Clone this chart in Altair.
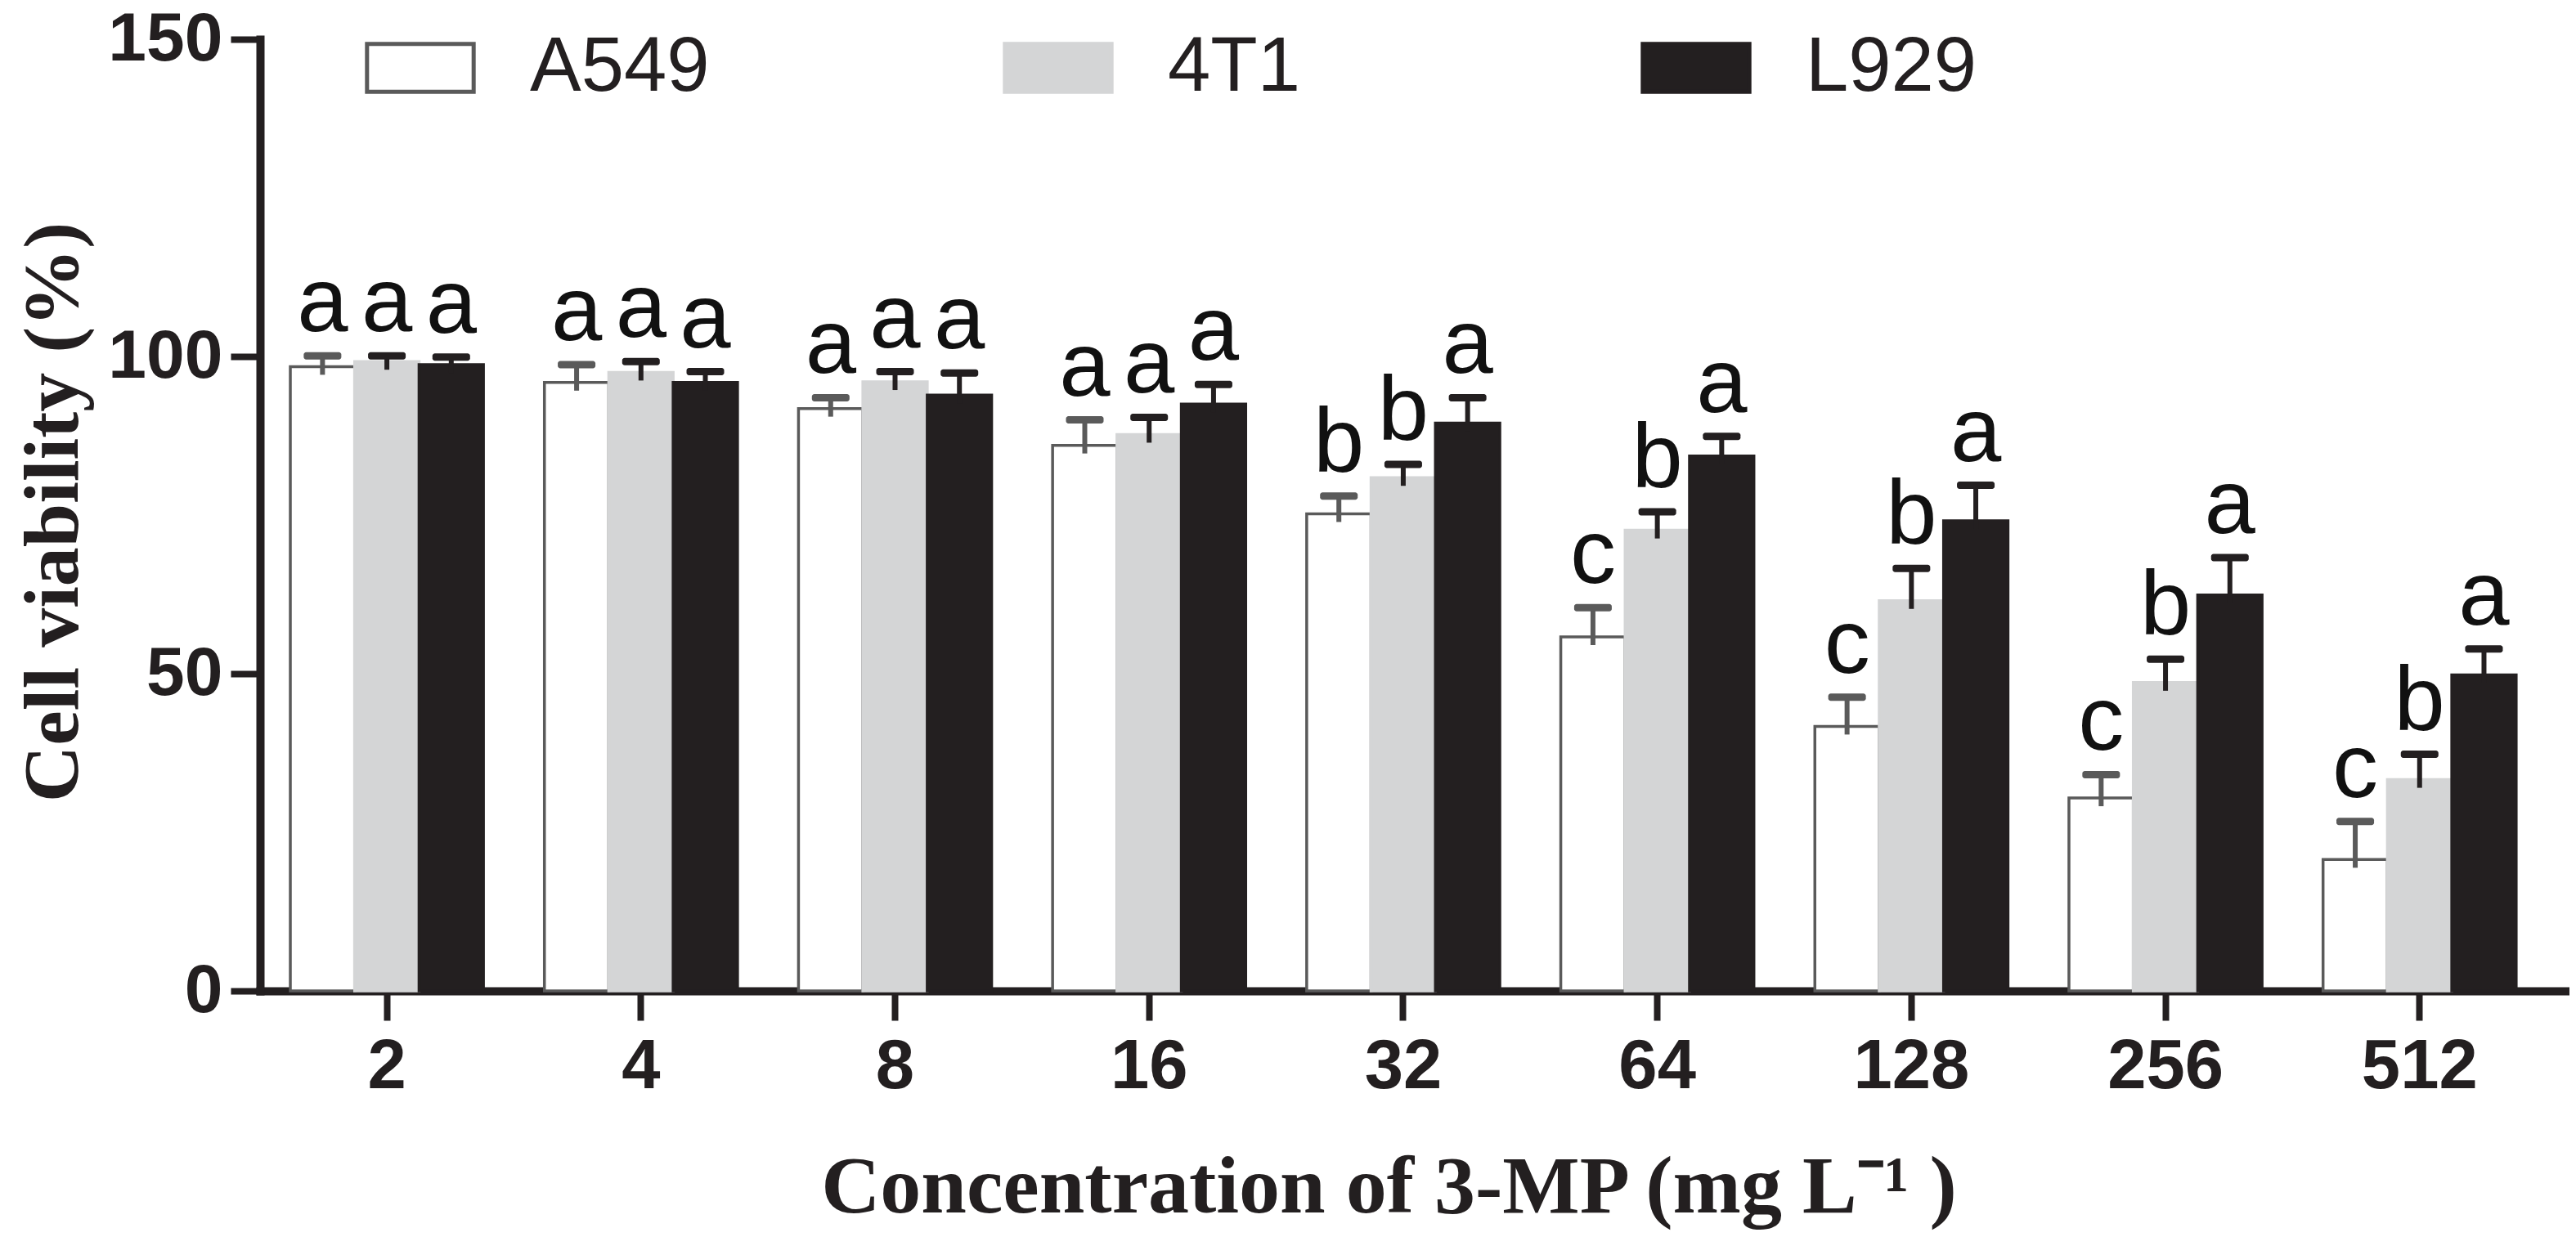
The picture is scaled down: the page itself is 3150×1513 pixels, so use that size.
import altair as alt
import pandas as pd

conc = ["2", "4", "8", "16", "32", "64", "128", "256", "512"]
series = ["A549", "4T1", "L929"]

a549_mean = [98.4, 95.9, 91.8, 86.0, 75.2, 55.8, 41.7, 30.4, 20.7]
a549_sd = [1.7, 2.8, 1.7, 4.0, 2.8, 4.6, 4.6, 3.7, 6.0]
t41_mean = [99.2, 97.5, 96.0, 87.7, 80.9, 72.6, 61.5, 48.6, 33.3]
t41_sd = [0.9, 1.7, 1.6, 2.7, 2.1, 2.9, 5.1, 3.7, 4.0]
l929_mean = [98.7, 95.9, 93.9, 92.5, 89.5, 84.3, 74.1, 62.4, 49.8]
l929_sd = [1.2, 1.7, 3.5, 3.1, 4.0, 3.1, 5.6, 5.9, 4.1]

a549_letter = ["a", "a", "a", "a", "b", "c", "c", "c", "c"]
t41_letter = ["a", "a", "a", "a", "b", "b", "b", "b", "b"]
l929_letter = ["a", "a", "a", "a", "a", "a", "a", "a", "a"]

fills = ["#ffffff", "#d4d5d6", "#231f20"]
strokes = ["#5a5a5a", "#d4d5d6", "#231f20"]

rows = []
for name, means, sds, lets in [
    ("A549", a549_mean, a549_sd, a549_letter),
    ("4T1", t41_mean, t41_sd, t41_letter),
    ("L929", l929_mean, l929_sd, l929_letter),
]:
    for c, m, s, l in zip(conc, means, sds, lets):
        rows.append({"conc": c, "series": name, "mean": m, "top": m + s, "letter": l})
df = pd.DataFrame(rows)

x_axis = alt.Axis(
    title="Concentration of 3-MP (mg L\u207b\u00b9 )",
    titleFont="Liberation Serif", titleFontSize=100, titleFontWeight="bold",
    titleColor="#231f20", titleX=1380, titleY=270, titleBaseline="alphabetic",
    titleAlign="center",
    labelFont="Liberation Sans", labelFontSize=85, labelFontWeight="bold",
    labelColor="#231f20", labelPadding=15, labelAngle=0,
    tickSize=36, tickWidth=8, tickColor="#231f20",
    domainWidth=10, domainColor="#231f20", domainCap="square",
)
y_axis = alt.Axis(
    title="Cell viability (%)", values=[0, 50, 100, 150],
    titleFont="Liberation Serif", titleFontSize=96, titleFontWeight="bold",
    titleColor="#231f20", titleX=-224, titleY=578, titleAngle=270,
    titleBaseline="alphabetic", titleAlign="center",
    labelFont="Liberation Sans", labelFontSize=84, labelFontWeight="bold",
    labelColor="#231f20", labelPadding=10,
    tickSize=36, tickWidth=8, tickColor="#231f20",
    domainWidth=10, domainColor="#231f20", domainCap="square", grid=False,
)

legend = alt.Legend(
    title=None, orient="none", legendX=128, legendY=-33, direction="horizontal",
    columns=3, gridAlign="all", columnPadding=350, padding=0,
    symbolType="M-1,-0.45H1V0.45H-1Z", symbolSize=17000, symbolStrokeWidth=5,
    symbolOpacity=1,
    labelFont="Liberation Sans", labelFontSize=94, labelColor="#231f20",
    labelOffset=66, labelLimit=0,
)

base = alt.Chart(df).encode(
    x=alt.X("conc:N", sort=conc, axis=x_axis,
            scale=alt.Scale(paddingInner=0.24, paddingOuter=0.158, align=0.377)),
    xOffset=alt.XOffset("series:N", sort=series,
                        scale=alt.Scale(domain=series, paddingInner=0, paddingOuter=0)),
)

yscale = alt.Scale(domain=[0, 150], nice=False)

bars = base.mark_bar(strokeWidth=3.5).encode(
    y=alt.Y("mean:Q", scale=yscale, axis=y_axis),
    fill=alt.Fill("series:N", scale=alt.Scale(domain=series, range=fills), legend=legend),
    stroke=alt.Stroke("series:N", scale=alt.Scale(domain=series, range=strokes), legend=legend),
)

err_color = alt.condition(alt.datum.series == "A549", alt.value("#5a5a5a"), alt.value("#231f20"))

stems = base.mark_rule(strokeWidth=6, y2Offset=10).encode(
    y=alt.Y("top:Q", scale=yscale),
    y2="mean:Q",
    color=err_color,
)

caps = base.mark_tick(thickness=9, size=46, cornerRadius=3, opacity=1).encode(
    y=alt.Y("top:Q", scale=yscale),
    color=err_color,
)

letters = base.mark_text(font="Liberation Sans", fontSize=112, baseline="alphabetic",
                         dy=-30, color="#111111").encode(
    y=alt.Y("top:Q", scale=yscale),
    text="letter:N",
)

chart = alt.layer(bars, stems, caps, letters).properties(
    width=2820, height=1164,
    autosize=alt.AutoSizeParams(type="none"),
    padding={"left": 310, "top": 40, "right": 4, "bottom": 300},
    background="white",
).configure_view(stroke=None)

chart.save("out.html", embed_options={"renderer": "svg", "actions": False})
